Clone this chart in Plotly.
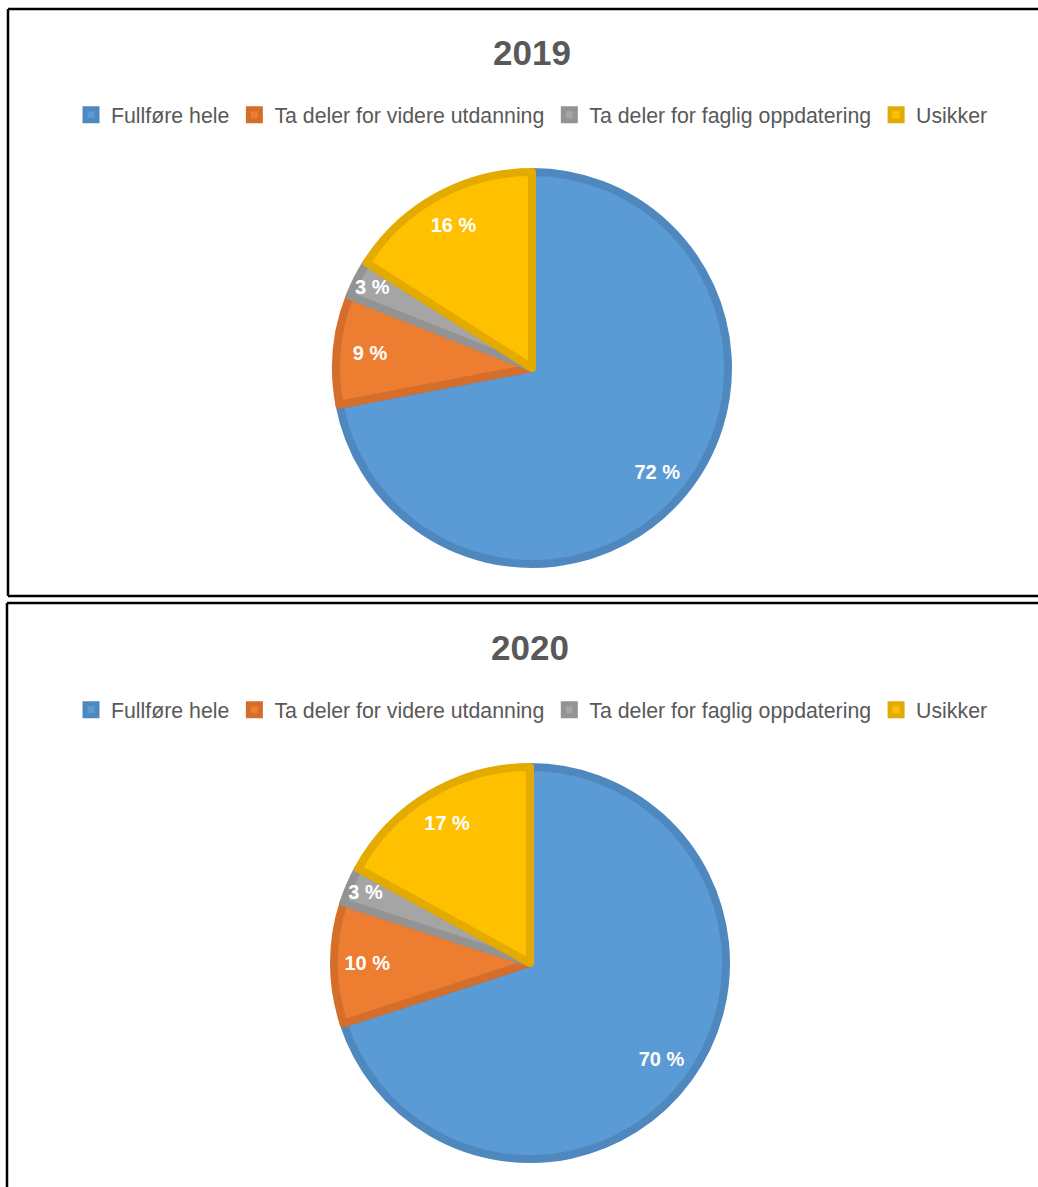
import plotly.graph_objects as go

categories = ["Fullføre hele", "Ta deler for videre utdanning",
              "Ta deler for faglig oppdatering", "Usikker"]
values_2019 = [72, 9, 3, 16]
values_2020 = [70, 10, 3, 17]
years = ["2019", "2020"]

fill_colors = ["#5B9BD5", "#ED7D31", "#A5A5A5", "#FFC000"]
edge_colors = ["#4F88BF", "#D46E2A", "#939393", "#E3AB00"]

W, H = 1038, 1187
FONT = "Liberation Sans"
GREY = "#595959"


def dom(cx, cy, r):
    return dict(x=[(cx - r) / W, (cx + r) / W],
                y=[1 - (cy + r) / H, 1 - (cy - r) / H])


fig = go.Figure()

panels = [
    dict(vals=values_2019, cx=532, cy=368, legend="legend", title_y=52, leg_y=115, suffix=""),
    dict(vals=values_2020, cx=530, cy=963, legend="legend2", title_y=647, leg_y=710, suffix="\u200b"),
]

for p, yr in zip(panels, years):
    d = dom(p["cx"], p["cy"], 196)
    labels = [c + p["suffix"] for c in categories]
    fig.add_trace(go.Pie(
        labels=labels, values=p["vals"], sort=False, direction="clockwise",
        rotation=0, domain=d, textinfo="none", hoverinfo="label+value",
        marker=dict(colors=fill_colors, line=dict(color=edge_colors, width=8)),
        legend=p["legend"], showlegend=True, name=yr,
    ))
    # transparent ring used to place the data labels near the rim
    fig.add_trace(go.Pie(
        labels=labels, values=p["vals"], sort=False, direction="clockwise",
        rotation=0, domain=d, hole=0.66,
        texttemplate="%{value} %", textposition="inside",
        insidetextorientation="horizontal",
        textfont=dict(family=FONT, size=20, color="white", weight="bold"),
        marker=dict(colors=["rgba(0,0,0,0)"] * 4, line=dict(width=0)),
        hoverinfo="skip", showlegend=False, legend=p["legend"],
    ))

annotations = []
for p, yr in zip(panels, years):
    annotations.append(dict(
        text=f"<b>{yr}</b>", x=p["cx"] / W, y=1 - p["title_y"] / H,
        xref="paper", yref="paper", xanchor="center", yanchor="middle",
        showarrow=False, font=dict(family=FONT, size=35, color=GREY)))

legend_common = dict(orientation="h", xanchor="center", yanchor="middle",
                     font=dict(family=FONT, size=21.3, color=GREY),
                     bgcolor="rgba(0,0,0,0)", itemclick=False, itemdoubleclick=False)

line_style = dict(color="black", width=2.5)
fig.update_layout(
    width=W, height=H,
    margin=dict(l=0, r=0, t=0, b=0),
    paper_bgcolor="white", plot_bgcolor="white",
    annotations=annotations,
    legend=dict(x=532 / W, y=1 - panels[0]["leg_y"] / H, **legend_common),
    legend2=dict(x=532 / W, y=1 - panels[1]["leg_y"] / H, **legend_common),
    uniformtext=dict(minsize=20, mode="show"),
    shapes=[
        dict(type="line", xref="paper", yref="paper", x0=8 / W, x1=1.01, y0=1 - 9 / H, y1=1 - 9 / H, line=line_style),
        dict(type="line", xref="paper", yref="paper", x0=8 / W, x1=1.01, y0=1 - 596 / H, y1=1 - 596 / H, line=line_style),
        dict(type="line", xref="paper", yref="paper", x0=8 / W, x1=8 / W, y0=1 - 9 / H, y1=1 - 596 / H, line=line_style),
        dict(type="line", xref="paper", yref="paper", x0=7 / W, x1=1.01, y0=1 - 603 / H, y1=1 - 603 / H, line=line_style),
        dict(type="line", xref="paper", yref="paper", x0=7 / W, x1=7 / W, y0=1 - 603 / H, y1=-0.01, line=line_style),
    ],
)

fig.write_html("out.html", config={"displayModeBar": False},
               post_script="document.body.style.margin='0';")
